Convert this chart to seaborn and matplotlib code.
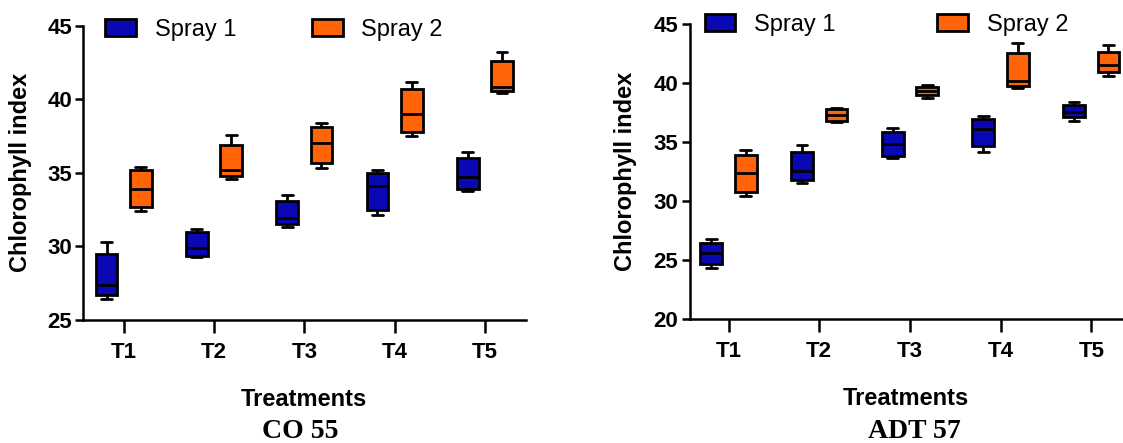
import pandas as pd
import matplotlib
matplotlib.use("Agg")
import matplotlib.pyplot as plt
from matplotlib.patches import Patch
import seaborn as sns

# categories
treatments = ["T1", "T2", "T3", "T4", "T5"]
sprays = ["Spray 1", "Spray 2"]
colors = ["#0a08b2", "#ff6508"]

# five-number summaries per treatment: min, q1, median, q3, max
co55_spray1 = [[26.4, 26.7, 27.4, 29.5, 30.3],
               [29.3, 29.35, 29.9, 31.0, 31.2],
               [31.3, 31.5, 31.9, 33.1, 33.5],
               [32.1, 32.5, 34.1, 35.0, 35.2],
               [33.75, 33.9, 34.7, 36.0, 36.4]]
co55_spray2 = [[32.4, 32.7, 33.9, 35.2, 35.4],
               [34.6, 34.8, 35.2, 36.9, 37.6],
               [35.3, 35.65, 37.0, 38.1, 38.4],
               [37.5, 37.8, 39.0, 40.7, 41.2],
               [40.45, 40.55, 40.8, 42.6, 43.2]]
adt57_spray1 = [[24.3, 24.65, 25.6, 26.45, 26.8],
                [31.55, 31.8, 32.5, 34.15, 34.75],
                [33.6, 33.8, 34.8, 35.85, 36.15],
                [34.15, 34.65, 36.1, 36.95, 37.2],
                [36.75, 37.1, 37.5, 38.15, 38.4]]
adt57_spray2 = [[30.45, 30.8, 32.35, 33.9, 34.3],
                [36.65, 36.8, 37.3, 37.75, 37.85],
                [38.7, 38.95, 39.35, 39.65, 39.8],
                [39.55, 39.7, 40.15, 42.55, 43.4],
                [40.55, 40.9, 41.5, 42.65, 43.2]]


def long_table(s1, s2):
    rows = []
    for spray, summary in zip(sprays, [s1, s2]):
        for t, vals in zip(treatments, summary):
            for v in vals:
                rows.append({"Treatment": t, "Spray": spray, "value": v})
    return pd.DataFrame(rows)


sns.set_style("ticks", {"axes.edgecolor": "black", "text.color": "black",
                        "xtick.color": "black", "ytick.color": "black",
                        "axes.labelcolor": "black"})
plt.rcParams["font.family"] = ["Liberation Sans", "DejaVu Sans"]
plt.rcParams["font.weight"] = "bold"
plt.rcParams["axes.linewidth"] = 1.8

fig = plt.figure(figsize=(11.23, 4.43), dpi=100)

panels = [
    dict(rect=[0.074, 0.278, 0.394, 0.664], data=long_table(co55_spray1, co55_spray2),
         ylim=(25, 45), yticks=[25, 30, 35, 40, 45], xlim=(-0.45, 4.45),
         title="CO 55", title_x=300 / 1123, leg_x=0.05, leg_y=0.986, colgap=3.2,
         ylab_x=-0.115),
    dict(rect=[0.614, 0.280, 0.386, 0.666], data=long_table(adt57_spray1, adt57_spray2),
         ylim=(20, 45), yticks=[20, 25, 30, 35, 40, 45], xlim=(-0.43, 4.35),
         title="ADT 57", title_x=914 / 1123, leg_x=0.035, leg_y=0.998, colgap=4.3,
         ylab_x=-0.122),
]

for p in panels:
    ax = fig.add_axes(p["rect"])
    sns.boxplot(data=p["data"], x="Treatment", y="value", hue="Spray",
                order=treatments, hue_order=sprays, palette=colors, saturation=1,
                width=0.76, gap=0.37, whis=(0, 100), linewidth=2.0,
                linecolor="black", fliersize=0, legend=False, ax=ax)
    ax.set_xlim(*p["xlim"])
    ax.set_ylim(*p["ylim"])
    ax.set_yticks(p["yticks"])
    sns.despine(ax=ax)
    ax.tick_params(axis="y", labelsize=16, length=6, width=1.8, pad=2, colors="black")
    ax.tick_params(axis="x", labelsize=16, length=9, width=1.8, pad=7, colors="black")
    ax.set_xlabel("Treatments", fontsize=17, fontweight="bold", color="black")
    ax.set_ylabel("Chlorophyll index", fontsize=17, fontweight="bold", color="black")
    ax.xaxis.set_label_coords(0.5, -0.23)
    ax.yaxis.set_label_coords(p["ylab_x"], 0.5)

    handles = [Patch(facecolor=c, edgecolor="black", linewidth=2.0, label=s)
               for c, s in zip(colors, sprays)]
    ax.legend(handles=handles, ncol=2, frameon=False, loc="center left",
              bbox_to_anchor=(p["leg_x"], p["leg_y"]), borderpad=0, borderaxespad=0,
              handlelength=1.3, handletextpad=0.8, columnspacing=p["colgap"],
              prop={"size": 17, "weight": "normal"}, labelcolor="black")

    fig.text(p["title_x"], 1 - 432 / 443, p["title"], ha="center", va="center",
             fontsize=20, fontweight="bold", color="black",
             family=["Liberation Serif", "DejaVu Serif"])

fig.savefig("out.png", dpi=100)
